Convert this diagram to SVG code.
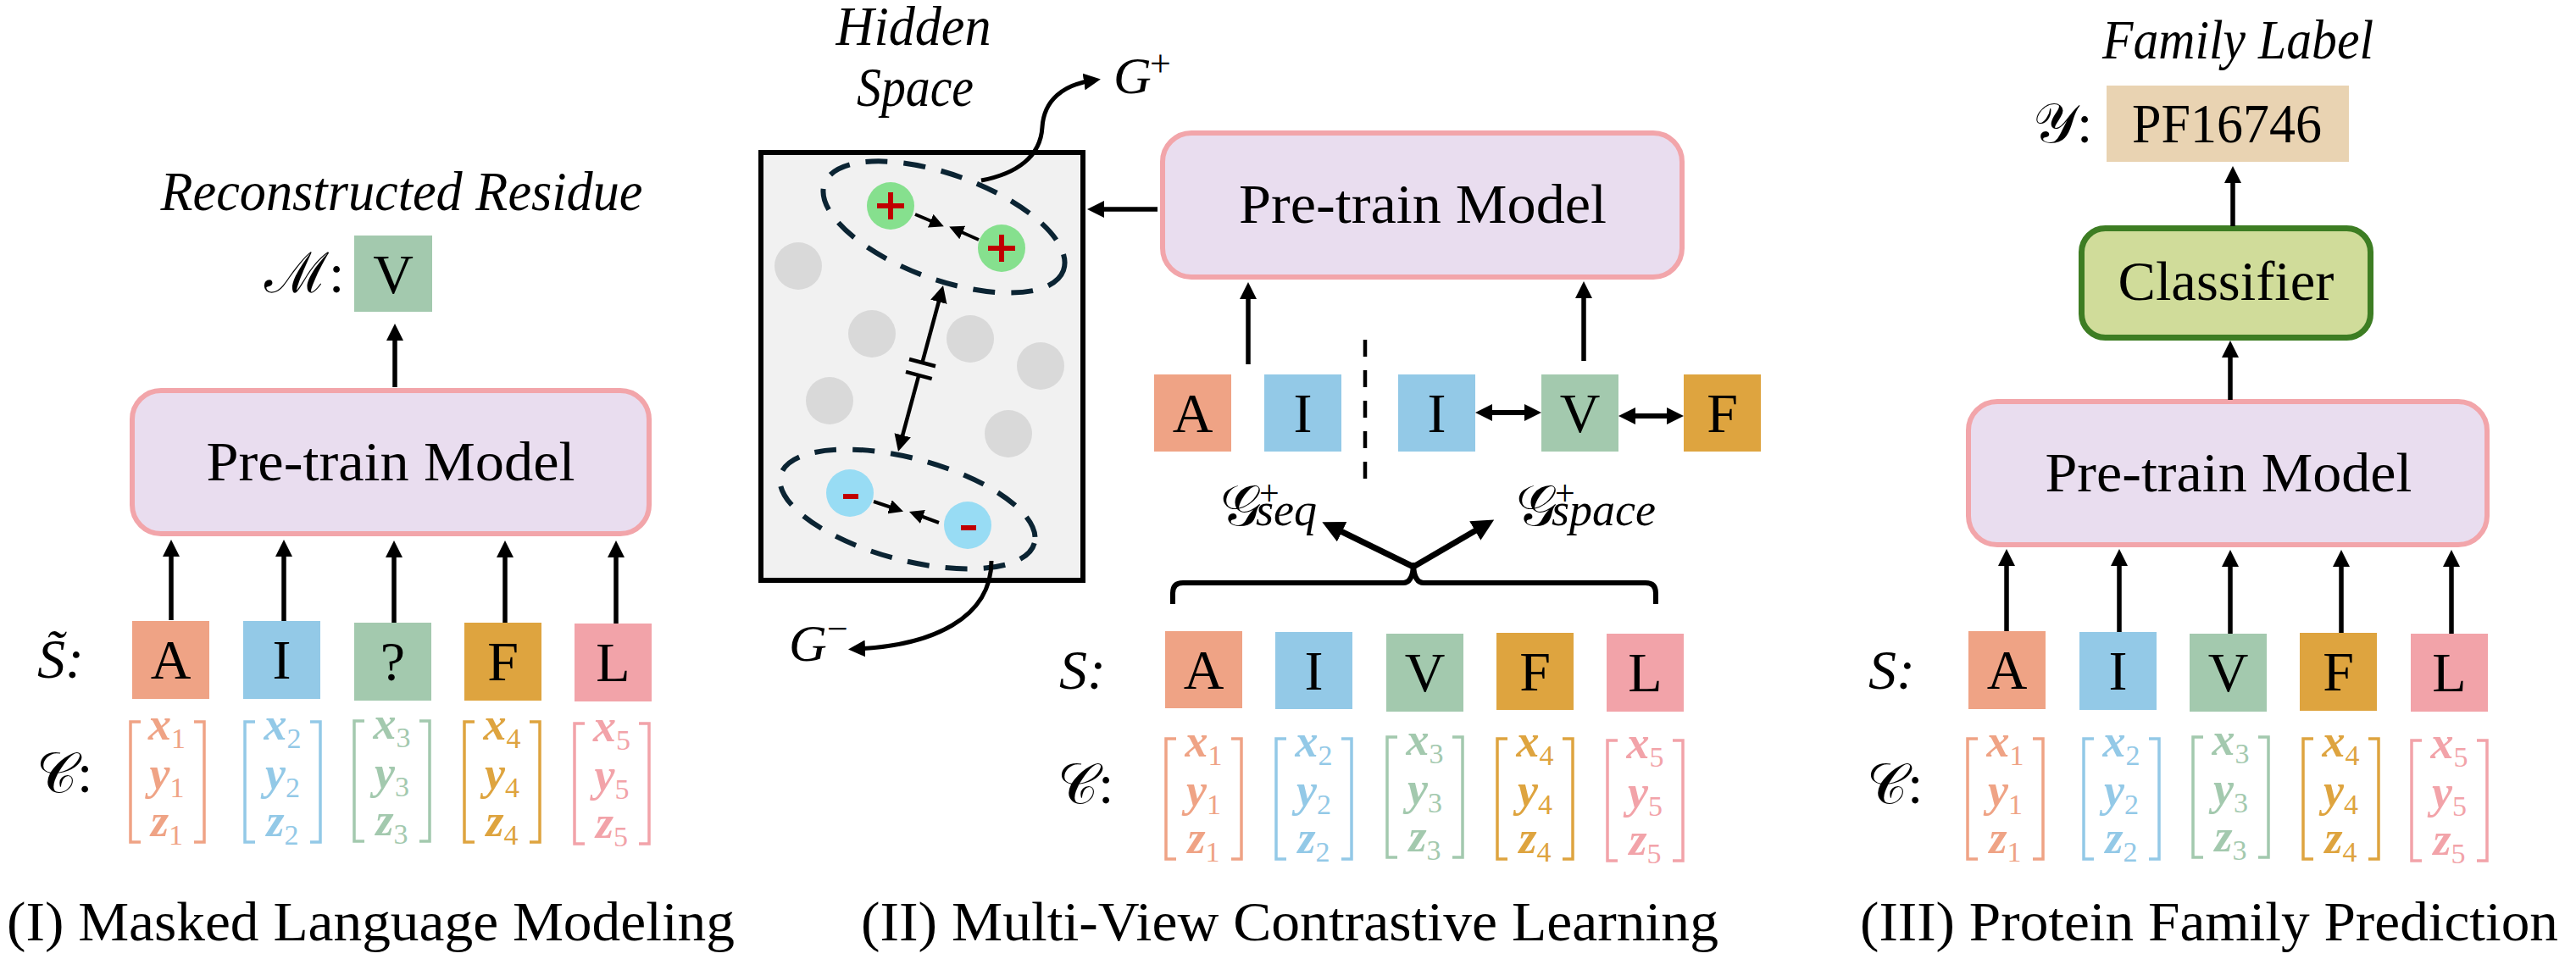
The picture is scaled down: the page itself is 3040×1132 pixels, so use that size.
<svg xmlns="http://www.w3.org/2000/svg" width="3040" height="1132" viewBox="0 0 3040 1132" font-family="'Liberation Serif', serif">
<style>
text{font-family:"Liberation Serif","DejaVu Serif",serif;fill:#000}
.big{font-size:66px}
.it{font-style:italic}
.mid{text-anchor:middle}
.ar{stroke:#000;stroke-width:5.5;fill:none;marker-end:url(#a)}
.model{fill:#E9DDEF;stroke:#F2A5AA;stroke-width:6}
.cA{fill:#EFA385}.cI{fill:#93C9E7}.cV{fill:#A3C9AE}.cF{fill:#DEA43F}.cL{fill:#F2A3A9}
.bA{stroke:#EFA385}.bI{stroke:#93C9E7}.bV{stroke:#A3C9AE}.bF{stroke:#DEA43F}.bL{stroke:#F2A3A9}
.br{fill:none;stroke-width:3.5}
.cv{font-size:54px;font-style:italic;font-weight:bold;text-anchor:middle}
.sb{font-size:34px;font-style:normal;font-weight:normal}
.gray{fill:#D9D9D9}
.dash{fill:none;stroke:#0B2433;stroke-width:6;stroke-dasharray:26 19}
.red{fill:#C00000}
</style>
<defs>
<marker id="a" viewBox="0 0 20 20" refX="10" refY="10" markerWidth="20" markerHeight="20" markerUnits="userSpaceOnUse" orient="auto-start-reverse"><path d="M0,0L20,10L0,20z"/></marker>
<marker id="as" viewBox="0 0 20 20" refX="10" refY="10" markerWidth="17" markerHeight="17" markerUnits="userSpaceOnUse" orient="auto-start-reverse"><path d="M0,0L20,10L0,20z"/></marker>
<marker id="al" viewBox="0 0 20 20" refX="10" refY="10" markerWidth="26" markerHeight="26" markerUnits="userSpaceOnUse" orient="auto-start-reverse"><path d="M0,0L20,10L0,20z"/></marker>
</defs>

<!-- ===== Panel I ===== -->
<g id="p1-title"><text class="big it mid" x="474" y="248" textLength="569" lengthAdjust="spacingAndGlyphs">Reconstructed Residue</text></g>
<g id="p1-M"><text class="big" x="312" y="345">ℳ:</text></g>
<g id="p1-out"><rect class="cV" x="418" y="278" width="92" height="90"/><text class="big mid" x="464" y="346">V</text></g>
<g id="p1-model"><rect class="model" x="156" y="461" width="610" height="169" rx="34"/><text class="big mid" x="461" y="567" textLength="435" lengthAdjust="spacingAndGlyphs">Pre-train Model</text></g>
<g id="p1-S"><text class="big it" x="44" y="800">S̃:</text></g>
<g id="p1-C"><text class="big" x="43" y="935">𝒞:</text></g>
<g id="p1-tokens">
<rect class="cA" x="156" y="733" width="91" height="92"/><text class="big mid" x="201.5" y="801">A</text>
<rect class="cI" x="287" y="733" width="91" height="92"/><text class="big mid" x="332.5" y="801">I</text>
<rect class="cV" x="418" y="735" width="91" height="92"/><text class="big mid" x="463.5" y="803">?</text>
<rect class="cF" x="548" y="735" width="91" height="92"/><text class="big mid" x="593.5" y="803">F</text>
<rect class="cL" x="678" y="736" width="91" height="92"/><text class="big mid" x="723.5" y="804">L</text>
</g>
<g id="p1-coords">
<path class="br bA" d="M166,852H154V994H166M229,852H241V994H229"/>
<text class="cv cA" x="197" y="873">x<tspan class="sb" dy="10">1</tspan></text>
<text class="cv cA" x="197" y="931">y<tspan class="sb" dy="10">1</tspan></text>
<text class="cv cA" x="197" y="987">z<tspan class="sb" dy="10">1</tspan></text>
<path class="br bI" d="M301,852H289V994H301M366,852H378V994H366"/>
<text class="cv cI" x="333.5" y="873">x<tspan class="sb" dy="10">2</tspan></text>
<text class="cv cI" x="333.5" y="931">y<tspan class="sb" dy="10">2</tspan></text>
<text class="cv cI" x="333.5" y="987">z<tspan class="sb" dy="10">2</tspan></text>
<path class="br bV" d="M430,851H418V993H430M495,851H507V993H495"/>
<text class="cv cV" x="462.5" y="872">x<tspan class="sb" dy="10">3</tspan></text>
<text class="cv cV" x="462.5" y="930">y<tspan class="sb" dy="10">3</tspan></text>
<text class="cv cV" x="462.5" y="986">z<tspan class="sb" dy="10">3</tspan></text>
<path class="br bF" d="M560,852H548V994H560M625,852H637V994H625"/>
<text class="cv cF" x="592.5" y="873">x<tspan class="sb" dy="10">4</tspan></text>
<text class="cv cF" x="592.5" y="931">y<tspan class="sb" dy="10">4</tspan></text>
<text class="cv cF" x="592.5" y="987">z<tspan class="sb" dy="10">4</tspan></text>
<path class="br bL" d="M690,854H678V996H690M754,854H766V996H754"/>
<text class="cv cL" x="722" y="875">x<tspan class="sb" dy="10">5</tspan></text>
<text class="cv cL" x="722" y="933">y<tspan class="sb" dy="10">5</tspan></text>
<text class="cv cL" x="722" y="989">z<tspan class="sb" dy="10">5</tspan></text>
</g>
<g id="p1-caption"><text class="big mid" x="437.5" y="1110" textLength="859" lengthAdjust="spacingAndGlyphs">(I) Masked Language Modeling</text></g>

<!-- ===== Panel II ===== -->
<g id="p2-title"><text class="big it mid" x="1078" y="53" textLength="183" lengthAdjust="spacingAndGlyphs">Hidden</text><text class="big it mid" x="1080" y="125" textLength="138" lengthAdjust="spacingAndGlyphs">Space</text></g>
<g id="hidden-space">
<rect x="898" y="180" width="380" height="505" fill="#F1F1F1" stroke="#000" stroke-width="6"/>
<circle class="gray" cx="942" cy="314" r="28"/>
<circle class="gray" cx="1029" cy="394" r="28"/>
<circle class="gray" cx="1145" cy="400" r="28"/>
<circle class="gray" cx="1228" cy="432" r="28"/>
<circle class="gray" cx="979" cy="473" r="28"/>
<circle class="gray" cx="1190" cy="512" r="28"/>
<ellipse class="dash" cx="1114" cy="268" rx="150" ry="62" transform="rotate(20 1114 268)"/>
<circle cx="1051" cy="243" r="28" fill="#86E08E"/>
<circle cx="1182" cy="293" r="28" fill="#86E08E"/>
<rect class="red" x="1035" y="240" width="32" height="6"/><rect class="red" x="1048" y="227" width="6" height="32"/>
<rect class="red" x="1166" y="290" width="32" height="6"/><rect class="red" x="1179" y="277" width="6" height="32"/>
<path d="M1080,253L1106,264" stroke="#000" stroke-width="4" marker-end="url(#as)"/>
<path d="M1155,283L1128,271" stroke="#000" stroke-width="4" marker-end="url(#as)"/>
<ellipse class="dash" cx="1071" cy="601" rx="155" ry="60" transform="rotate(15 1071 601)"/>
<circle cx="1003" cy="582" r="28" fill="#98DCF4"/>
<circle cx="1142" cy="620" r="28" fill="#98DCF4"/>
<rect class="red" x="995" y="583" width="18" height="6"/>
<rect class="red" x="1134" y="620" width="18" height="6"/>
<path d="M1031,592L1058,601" stroke="#000" stroke-width="4" marker-end="url(#as)"/>
<path d="M1108,617L1081,607" stroke="#000" stroke-width="4" marker-end="url(#as)"/>
<path d="M1088.4,428L1110.4,346.7" stroke="#000" stroke-width="4.5" marker-end="url(#a)"/>
<path d="M1084.3,443L1062.6,523.4" stroke="#000" stroke-width="4.5" marker-end="url(#a)"/>
<path d="M1073,424L1104,432.2M1069,438.8L1099.7,447.2" stroke="#000" stroke-width="4.5"/>
</g>
<g id="Gplus"><text class="it" x="1314" y="110" font-size="62">G<tspan x="1357" y="90" font-size="44" font-style="normal">+</tspan></text></g>
<g id="Gminus"><text class="it" x="931" y="780" font-size="62">G<tspan x="976" y="757" font-size="44" font-style="normal">−</tspan></text></g>
<g id="p2-model"><rect class="model" x="1372" y="157" width="613" height="170" rx="34"/><text class="big mid" x="1679" y="263" textLength="434" lengthAdjust="spacingAndGlyphs">Pre-train Model</text></g>
<g id="p2-views">
<rect class="cA" x="1362" y="442" width="91" height="91"/><text class="big mid" x="1407.5" y="510">A</text>
<rect class="cI" x="1492" y="442" width="91" height="91"/><text class="big mid" x="1537.5" y="510">I</text>
<rect class="cI" x="1650" y="442" width="91" height="91"/><text class="big mid" x="1695.5" y="510">I</text>
<rect class="cV" x="1819" y="442" width="91" height="91"/><text class="big mid" x="1864.5" y="510">V</text>
<rect class="cF" x="1987" y="442" width="91" height="91"/><text class="big mid" x="2032.5" y="510">F</text>
</g>
<g id="p2-Gseq"><text x="1440" y="620" font-size="68">𝒢<tspan x="1486" y="596" font-size="42">+</tspan><tspan class="it" x="1482" y="620" font-size="54">seq</tspan></text></g>
<g id="p2-Gspace"><text x="1789" y="620" font-size="68">𝒢<tspan x="1835" y="596" font-size="42">+</tspan><tspan class="it" x="1831" y="620" font-size="54">space</tspan></text></g>
<g id="p2-S"><text class="big it" x="1250" y="813">S:</text></g>
<g id="p2-C"><text class="big" x="1248" y="948">𝒞:</text></g>
<g id="p2-tokens">
<rect class="cA" x="1375" y="745" width="91" height="91"/><text class="big mid" x="1420.5" y="813">A</text>
<rect class="cI" x="1505" y="746" width="91" height="91"/><text class="big mid" x="1550.5" y="814">I</text>
<rect class="cV" x="1636" y="748" width="91" height="92"/><text class="big mid" x="1681.5" y="816">V</text>
<rect class="cF" x="1766" y="747" width="91" height="91"/><text class="big mid" x="1811.5" y="815">F</text>
<rect class="cL" x="1896" y="748" width="91" height="92"/><text class="big mid" x="1941.5" y="816">L</text>
</g>
<g id="p2-coords">
<path class="br bA" d="M1388,872H1376V1014H1388M1453,872H1465V1014H1453"/>
<text class="cv cA" x="1420.5" y="893">x<tspan class="sb" dy="10">1</tspan></text>
<text class="cv cA" x="1420.5" y="951">y<tspan class="sb" dy="10">1</tspan></text>
<text class="cv cA" x="1420.5" y="1007">z<tspan class="sb" dy="10">1</tspan></text>
<path class="br bI" d="M1518,872H1506V1014H1518M1583,872H1595V1014H1583"/>
<text class="cv cI" x="1550.5" y="893">x<tspan class="sb" dy="10">2</tspan></text>
<text class="cv cI" x="1550.5" y="951">y<tspan class="sb" dy="10">2</tspan></text>
<text class="cv cI" x="1550.5" y="1007">z<tspan class="sb" dy="10">2</tspan></text>
<path class="br bV" d="M1649,870H1637V1012H1649M1714,870H1726V1012H1714"/>
<text class="cv cV" x="1681.5" y="891">x<tspan class="sb" dy="10">3</tspan></text>
<text class="cv cV" x="1681.5" y="949">y<tspan class="sb" dy="10">3</tspan></text>
<text class="cv cV" x="1681.5" y="1005">z<tspan class="sb" dy="10">3</tspan></text>
<path class="br bF" d="M1779,872H1767V1014H1779M1844,872H1856V1014H1844"/>
<text class="cv cF" x="1811.5" y="893">x<tspan class="sb" dy="10">4</tspan></text>
<text class="cv cF" x="1811.5" y="951">y<tspan class="sb" dy="10">4</tspan></text>
<text class="cv cF" x="1811.5" y="1007">z<tspan class="sb" dy="10">4</tspan></text>
<path class="br bL" d="M1909,874H1897V1016H1909M1974,874H1986V1016H1974"/>
<text class="cv cL" x="1941.5" y="895">x<tspan class="sb" dy="10">5</tspan></text>
<text class="cv cL" x="1941.5" y="953">y<tspan class="sb" dy="10">5</tspan></text>
<text class="cv cL" x="1941.5" y="1009">z<tspan class="sb" dy="10">5</tspan></text>
</g>
<g id="p2-caption"><text class="big mid" x="1522" y="1110" textLength="1012" lengthAdjust="spacingAndGlyphs">(II) Multi-View Contrastive Learning</text></g>

<!-- ===== Panel III ===== -->
<g id="p3-title"><text class="big it mid" x="2641" y="69" textLength="320" lengthAdjust="spacingAndGlyphs">Family Label</text></g>
<g id="p3-Y"><text class="big" x="2399" y="168">𝒴:</text></g>
<g id="p3-label"><rect x="2486" y="101" width="286" height="90" fill="#E9D3B2"/><text class="big mid" x="2628" y="168" textLength="224" lengthAdjust="spacingAndGlyphs">PF16746</text></g>
<g id="p3-classifier"><rect x="2456.5" y="269.5" width="341" height="129" rx="28" fill="#D0DC9A" stroke="#3D7D23" stroke-width="7"/><text class="big mid" x="2627" y="354" textLength="255" lengthAdjust="spacingAndGlyphs">Classifier</text></g>
<g id="p3-model"><rect class="model" x="2323" y="474" width="612" height="169" rx="34"/><text class="big mid" x="2630" y="580" textLength="433" lengthAdjust="spacingAndGlyphs">Pre-train Model</text></g>
<g id="p3-S"><text class="big it" x="2205" y="813">S:</text></g>
<g id="p3-C"><text class="big" x="2203" y="948">𝒞:</text></g>
<g id="p3-tokens">
<rect class="cA" x="2323" y="745" width="91" height="92"/><text class="big mid" x="2368.5" y="813">A</text>
<rect class="cI" x="2454" y="746" width="91" height="92"/><text class="big mid" x="2499.5" y="814">I</text>
<rect class="cV" x="2584" y="748" width="91" height="92"/><text class="big mid" x="2629.5" y="816">V</text>
<rect class="cF" x="2714" y="747" width="91" height="92"/><text class="big mid" x="2759.5" y="815">F</text>
<rect class="cL" x="2845" y="748" width="91" height="92"/><text class="big mid" x="2890.5" y="816">L</text>
</g>
<g id="p3-coords">
<path class="br bA" d="M2334,872H2322V1014H2334M2399,872H2411V1014H2399"/>
<text class="cv cA" x="2366.5" y="893">x<tspan class="sb" dy="10">1</tspan></text>
<text class="cv cA" x="2366.5" y="951">y<tspan class="sb" dy="10">1</tspan></text>
<text class="cv cA" x="2366.5" y="1007">z<tspan class="sb" dy="10">1</tspan></text>
<path class="br bI" d="M2471,872H2459V1014H2471M2536,872H2548V1014H2536"/>
<text class="cv cI" x="2503.5" y="893">x<tspan class="sb" dy="10">2</tspan></text>
<text class="cv cI" x="2503.5" y="951">y<tspan class="sb" dy="10">2</tspan></text>
<text class="cv cI" x="2503.5" y="1007">z<tspan class="sb" dy="10">2</tspan></text>
<path class="br bV" d="M2600,870H2588V1012H2600M2665,870H2677V1012H2665"/>
<text class="cv cV" x="2632.5" y="891">x<tspan class="sb" dy="10">3</tspan></text>
<text class="cv cV" x="2632.5" y="949">y<tspan class="sb" dy="10">3</tspan></text>
<text class="cv cV" x="2632.5" y="1005">z<tspan class="sb" dy="10">3</tspan></text>
<path class="br bF" d="M2730,872H2718V1014H2730M2795,872H2807V1014H2795"/>
<text class="cv cF" x="2762.5" y="893">x<tspan class="sb" dy="10">4</tspan></text>
<text class="cv cF" x="2762.5" y="951">y<tspan class="sb" dy="10">4</tspan></text>
<text class="cv cF" x="2762.5" y="1007">z<tspan class="sb" dy="10">4</tspan></text>
<path class="br bL" d="M2858,874H2846V1016H2858M2923,874H2935V1016H2923"/>
<text class="cv cL" x="2890.5" y="895">x<tspan class="sb" dy="10">5</tspan></text>
<text class="cv cL" x="2890.5" y="953">y<tspan class="sb" dy="10">5</tspan></text>
<text class="cv cL" x="2890.5" y="1009">z<tspan class="sb" dy="10">5</tspan></text>
</g>
<g id="p3-caption"><text class="big mid" x="2607" y="1110" textLength="824" lengthAdjust="spacingAndGlyphs">(III) Protein Family Prediction</text></g>

<!-- ===== Connectors ===== -->
<g id="connectors">
<path class="ar" d="M466,457V392"/>
<path class="ar" d="M202,732V647"/>
<path class="ar" d="M335,733V647"/>
<path class="ar" d="M465,735V648"/>
<path class="ar" d="M596,735V648"/>
<path class="ar" d="M727,736V648"/>
<path class="ar" d="M1366,247H1293"/>
<path class="ar" d="M1473,430V343"/>
<path class="ar" d="M1869,426V342"/>
<path d="M1751,487H1809" stroke="#000" stroke-width="6" marker-start="url(#a)" marker-end="url(#a)"/>
<path d="M1920,491H1977" stroke="#000" stroke-width="6" marker-start="url(#a)" marker-end="url(#a)"/>
<path d="M1611,401V566" stroke="#000" stroke-width="4.5" stroke-dasharray="20 16"/>
<path d="M1668,669L1572,622" stroke="#000" stroke-width="7" marker-end="url(#al)"/>
<path d="M1668,669L1752,620" stroke="#000" stroke-width="7" marker-end="url(#al)"/>
<path d="M1384,713V700Q1384,688 1396,688H1656Q1667,688 1668,667Q1669,688 1680,688H1942Q1954,688 1954,700V713" fill="none" stroke="#000" stroke-width="6" stroke-linejoin="round"/>
<path d="M1158,213C1200,205 1228,185 1230,150C1232,118 1255,100 1289,95" fill="none" stroke="#000" stroke-width="5" marker-end="url(#a)"/>
<path d="M1170,662C1170,730 1100,762 1011,766" fill="none" stroke="#000" stroke-width="5" marker-end="url(#a)"/>
<path class="ar" d="M2635,267V206"/>
<path class="ar" d="M2632,472V412"/>
<path class="ar" d="M2368,745V658"/>
<path class="ar" d="M2501,746V658"/>
<path class="ar" d="M2632,748V659"/>
<path class="ar" d="M2763,747V659"/>
<path class="ar" d="M2893,748V659"/>
</g>
</svg>
